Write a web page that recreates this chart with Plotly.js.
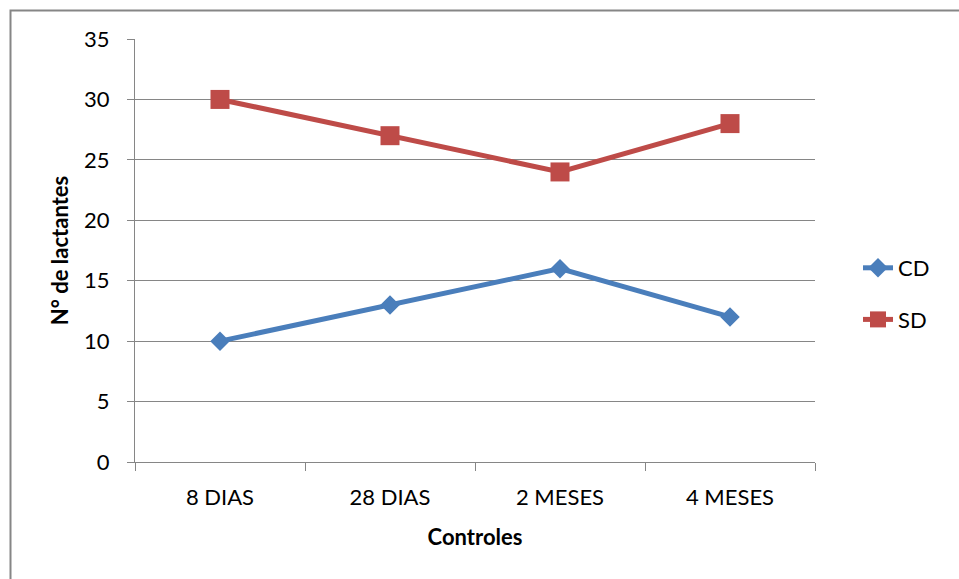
<!DOCTYPE html>
<html>
<head>
<meta charset="utf-8">
<script src="https://cdn.plot.ly/plotly-3.0.1.min.js"></script>
<style>
  html, body { margin: 0; padding: 0; background: #ffffff; }
  #chart { width: 959px; height: 579px; }
</style>
</head>
<body>
<div id="chart"></div>
<script>
// Controles (time points) and number of infants per group
const controles = ["8 DIAS", "28 DIAS", "2 MESES", "4 MESES"];
const cdValues = [10, 13, 16, 12];
const sdValues = [30, 27, 24, 28];
const yTicks = [0, 5, 10, 15, 20, 25, 30, 35];

const FONT = "Lato, Calibri, 'Liberation Sans', sans-serif";
const GRID = "#868686";
const FS = 22;

const traces = [
  {
    x: controles, y: cdValues, name: "CD", type: "scatter", mode: "lines+markers",
    legendgroup: "cd",
    line: { color: "#4A7EBB", width: 5 },
    marker: { symbol: "diamond", size: 15, color: "#4A7EBB" }
  },
  {
    x: controles, y: sdValues, name: "SD", type: "scatter", mode: "lines+markers",
    legendgroup: "sd",
    line: { color: "#BE4B48", width: 5 },
    marker: { symbol: "square", size: 19, color: "#BE4B48" }
  }
];

// plot area: x 135..815, y 39..462
const L = 135, R = 815, T = 39, B = 462, W = 959, H = 579;
const px = X => (X - L) / (R - L);
const py = Y => (B - Y) / (B - T);

const layout = {
  width: W, height: H,
  margin: { l: L, r: W - R, t: T, b: H - B, pad: 0 },
  paper_bgcolor: "#ffffff",
  plot_bgcolor: "#ffffff",
  font: { family: FONT, size: FS, color: "#000000" },
  showlegend: true,
  legend: {
    x: px(858), y: py(294), xanchor: "left", yanchor: "middle",
    traceorder: "grouped", tracegroupgap: 20,
    font: { family: FONT, size: FS, color: "#000000" },
    bgcolor: "rgba(0,0,0,0)"
  },
  xaxis: {
    type: "category",
    range: [-0.5, 3.5],
    tickson: "boundaries",
    ticks: "outside", ticklen: 8, tickcolor: GRID, tickwidth: 1,
    showline: true, linecolor: GRID, linewidth: 1,
    showgrid: false, zeroline: false,
    automargin: false,
    ticklabelstandoff: 16,
    tickfont: { family: FONT, size: FS, color: "#000000" },
    title: { text: "<b>Controles</b>", standoff: 20, font: { family: FONT, size: FS, color: "#000000" } }
  },
  yaxis: {
    range: [0, 35],
    tickmode: "array", tickvals: yTicks,
    ticks: "outside", ticklen: 7, tickcolor: GRID, tickwidth: 1,
    showline: true, linecolor: GRID, linewidth: 1,
    showgrid: true, gridcolor: GRID, gridwidth: 1,
    zeroline: false,
    automargin: false,
    ticklabelstandoff: 13,
    tickfont: { family: FONT, size: FS, color: "#000000" },
    title: { text: "<b>N° de lactantes</b>", standoff: 9, font: { family: FONT, size: FS, color: "#000000" } }
  },
  shapes: [
    {
      type: "rect", xref: "paper", yref: "paper", layer: "below",
      x0: px(10.5), x1: px(990), y0: py(600), y1: py(10.5),
      line: { color: "#868686", width: 2 }, fillcolor: "rgba(0,0,0,0)"
    }
  ]
};

Plotly.newPlot("chart", traces, layout, { displayModeBar: false, staticPlot: true });
</script>
</body>
</html>
